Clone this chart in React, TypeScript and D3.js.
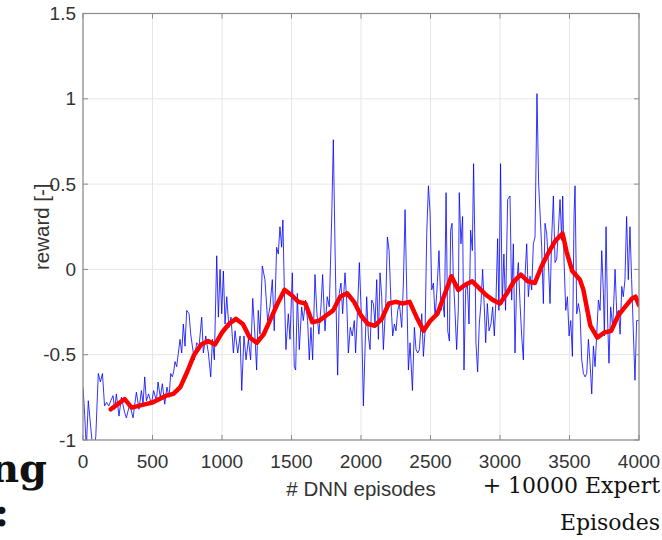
import React from "react";
import * as d3 from "d3";

// Raw reward per DNN episode
const rawEpisodes = [
  0, 12, 24, 38, 55, 74, 92, 110, 125, 140, 155, 170, 185, 200,
  216, 228, 240, 259, 276, 300, 312, 336, 360, 384, 403, 420, 432, 444, 456, 472, 492, 508, 528, 540, 556, 571, 588, 604, 619, 631, 643, 652, 662,
  674, 698, 710, 722, 734, 746, 763, 775, 787, 801, 818, 835, 854, 866, 883, 902, 919, 931, 945, 962, 974, 986, 998, 1010, 1022, 1034, 1050, 1065, 1082, 1094, 1113, 1130, 1142, 1158, 1173, 1190, 1206, 1221, 1237, 1249, 1261, 1273, 1290, 1309,
  1328, 1345, 1362, 1376, 1393, 1405, 1417, 1429, 1438, 1448, 1460, 1477, 1489, 1506, 1520, 1530, 1542, 1556, 1573, 1585, 1601, 1616, 1628, 1640, 1652, 1669, 1683, 1697, 1712, 1724, 1741, 1757, 1772, 1789, 1801, 1813, 1825, 1832, 1844, 1856, 1868, 1885, 1897, 1909, 1923, 1937, 1952, 1961, 1976, 1988,
  2005, 2017, 2029, 2041, 2053, 2065, 2077, 2089, 2101, 2113, 2125, 2137, 2149, 2161, 2178, 2190, 2202, 2216, 2228, 2240, 2252, 2264, 2276, 2293, 2305, 2317, 2329, 2341, 2353, 2370, 2384, 2396, 2408, 2420, 2437, 2449, 2461, 2473, 2485, 2497, 2509, 2521, 2533, 2545, 2561, 2576, 2585, 2600, 2612, 2624, 2636,
  2645, 2655, 2664, 2676, 2688, 2700, 2707, 2719, 2731, 2741, 2753, 2765, 2777, 2789, 2801, 2810, 2820, 2827, 2839, 2851, 2863, 2875, 2887, 2897, 2909, 2921, 2935, 2947, 2959, 2971, 2983, 2992, 3004, 3016, 3028, 3040, 3055, 3072, 3084, 3096, 3108, 3120, 3132, 3144, 3156, 3168, 3180, 3192, 3204, 3216, 3228, 3240, 3252, 3266, 3278,
  3300, 3312, 3324, 3336, 3348, 3360, 3372, 3384, 3396, 3408, 3420, 3432, 3444, 3451, 3461, 3473, 3485, 3497, 3509, 3521, 3533, 3540, 3552, 3564, 3576, 3588, 3600, 3612, 3624, 3636, 3648, 3660, 3672, 3684, 3696, 3708, 3720, 3732, 3744, 3751, 3763, 3775, 3784, 3796, 3811, 3828, 3840, 3852, 3864, 3876, 3887, 3899, 3911, 3923, 3935, 3947, 3959, 3971, 3983, 3998,
];
const rawRewards = [
  -0.69, -0.85, -1.05, -0.77, -0.92, -1.08, -0.98, -0.61, -0.66, -0.61, -0.8, -0.78, -0.8, -0.77,
  -0.74, -0.82, -0.73, -0.86, -0.75, -0.84, -0.87, -0.79, -0.87, -0.72, -0.82, -0.71, -0.79, -0.63, -0.77, -0.73, -0.79, -0.71, -0.77, -0.66, -0.75, -0.67, -0.79, -0.69, -0.75, -0.61, -0.63, -0.6, -0.54,
  -0.57, -0.41, -0.49, -0.32, -0.45, -0.24, -0.26, -0.38, -0.45, -0.53, -0.43, -0.45, -0.28, -0.49, -0.39, -0.49, -0.63, -0.41, -0.53, 0.08, -0.28, 0.0, -0.26, -0.01, -0.32, -0.16, -0.34, -0.28, -0.49, -0.36, -0.49, -0.39, -0.71, -0.39, -0.53, -0.41, -0.53, -0.17, -0.39, -0.59, -0.24, -0.38, 0.02, -0.06,
  -0.3, -0.22, -0.06, -0.36, 0.13, 0.09, 0.25, 0.13, 0.29, -0.1, -0.47, -0.26, -0.41, -0.02, -0.57, -0.59, -0.14, -0.47, -0.22, -0.3, -0.18, -0.3, -0.53, -0.34, -0.53, -0.03, -0.26, -0.38, -0.22, -0.03, -0.36, -0.16, -0.22, 0.29, 0.76, 0.13, -0.39, -0.62, -0.14, -0.08, -0.26, -0.02, -0.18, -0.49, -0.34, -0.39, -0.3, -0.49, -0.22, 0.04,
  -0.32, -0.8, -0.47, -0.16, -0.39, -0.47, -0.18, -0.2, -0.32, -0.06, -0.41, -0.02, -0.16, -0.47, -0.2, 0.19, 0.11, -0.2, -0.39, -0.32, -0.36, -0.24, -0.2, -0.34, -0.08, 0.35, -0.12, -0.59, -0.43, -0.71, -0.34, -0.47, -0.49, -0.47, -0.26, -0.51, -0.36, 0.21, 0.49, 0.33, -0.12, -0.08, -0.28, -0.14, 0.11, -0.24, -0.16, -0.28, 0.45, -0.36, -0.42,
  0.23, 0.27, -0.04, -0.24, -0.47, -0.24, 0.45, 0.15, 0.31, -0.59, -0.12, -0.08, -0.32, 0.23, 0.11, 0.62, 0.11, -0.43, -0.6, -0.32, -0.2, 0.0, -0.22, -0.43, -0.2, -0.36, -0.32, -0.22, -0.39, -0.18, 0.18, -0.24, 0.62, -0.2, 0.09, -0.24, 0.41, 0.43, -0.18, 0.15, -0.49, -0.08, 0.04, -0.2, -0.39, -0.53, -0.04, 0.15, -0.16, -0.04, -0.12, 0.15, 0.19, 1.03, 0.5,
  0.13, -0.2, 0.27, 0.21, 0.04, -0.2, 0.19, 0.43, 0.04, 0.06, 0.23, 0.41, 0.17, 0.43, 0.04, -0.24, -0.16, -0.39, -0.3, -0.51, 0.33, 0.49, -0.26, -0.2, -0.26, -0.53, -0.61, -0.63, -0.61, -0.41, -0.55, -0.73, -0.45, -0.57, -0.38, -0.18, -0.24, 0.11, -0.14, -0.39, 0.25, -0.32, -0.55, -0.22, -0.34, 0.0, -0.26, -0.24, -0.38, -0.1, -0.16, -0.06, 0.31, -0.06, 0.25, -0.06, -0.36, -0.65, -0.3, -0.3,
];

// Smoothed (moving-average) reward
const avgEpisodes = [
  200, 250, 300, 350, 400, 450, 500, 550, 600, 650, 700, 750, 800, 850, 900, 950, 1000, 1050, 1100, 1150, 1200, 1250, 1300, 1350, 1400, 1450, 1500, 1550, 1600, 1650, 1700, 1750, 1800, 1850, 1900, 1950, 2000, 2050, 2100, 2150, 2200, 2250, 2300, 2350, 2400, 2450, 2500, 2550, 2600, 2650, 2700, 2750, 2800, 2850, 2900, 2950, 3000, 3050, 3100, 3150, 3200, 3250, 3300, 3350, 3400, 3450, 3480, 3520, 3575, 3600, 3650, 3700, 3750, 3800, 3850, 3900, 3950, 3975, 4000,
];
const avgRewards = [
  -0.82, -0.79, -0.76, -0.81, -0.8, -0.79, -0.78, -0.76, -0.74, -0.73, -0.69, -0.6, -0.5, -0.44, -0.42, -0.44, -0.37, -0.32, -0.29, -0.32, -0.4, -0.43, -0.38, -0.29, -0.2, -0.12, -0.15, -0.19, -0.2, -0.31, -0.3, -0.27, -0.24, -0.16, -0.14, -0.19, -0.27, -0.32, -0.33, -0.29, -0.2, -0.19, -0.2, -0.19, -0.28, -0.36, -0.3, -0.26, -0.15, -0.04, -0.12, -0.09, -0.07, -0.11, -0.15, -0.18, -0.2, -0.14, -0.07, -0.03, -0.07, -0.08, 0.02, 0.1, 0.17, 0.21, 0.1, -0.01, -0.06, -0.12, -0.33, -0.4, -0.37, -0.36, -0.27, -0.22, -0.17, -0.16, -0.21,
];

const xTicks = [0, 500, 1000, 1500, 2000, 2500, 3000, 3500, 4000];
const yTicks = [-1, -0.5, 0, 0.5, 1, 1.5];
const yTickLabels = ["-1", "-0.5", "0", "0.5", "1", "1.5"];

const W = 662;
const H = 540;
const M = { left: 83, right: 639, top: 13.5, bottom: 440 };

export default function App() {
  const x = d3.scaleLinear().domain([0, 4000]).range([M.left, M.right]);
  const y = d3.scaleLinear().domain([-1, 1.5]).range([M.bottom, M.top]);

  const raw = rawEpisodes.map((e, i) => [e, rawRewards[i]] as [number, number]);
  const avg = avgEpisodes.map((e, i) => [e, avgRewards[i]] as [number, number]);

  const line = d3
    .line<[number, number]>()
    .x((d) => x(d[0]))
    .y((d) => y(d[1]));

  const tickFont = "Liberation Sans, Arial, Helvetica, sans-serif";
  const axisColor = "#8a8a8a";
  const textColor = "#333333";
  const gridColor = "#e6e6e6";
  const tickLen = 5;

  return (
    <svg
      width={W}
      height={H}
      viewBox={`0 0 ${W} ${H}`}
      style={{ position: "fixed", left: 0, top: 0, background: "#ffffff" }}
    >
      <defs>
        <clipPath id="plotClip">
          <rect x={M.left} y={M.top} width={M.right - M.left} height={M.bottom - M.top} />
        </clipPath>
      </defs>
      <rect x={0} y={0} width={W} height={H} fill="#ffffff" />

      {/* grid */}
      {xTicks.map((t) => (
        <line key={"gx" + t} x1={x(t)} x2={x(t)} y1={M.top} y2={M.bottom} stroke={gridColor} strokeWidth={1} />
      ))}
      {yTicks.map((t) => (
        <line key={"gy" + t} x1={M.left} x2={M.right} y1={y(t)} y2={y(t)} stroke={gridColor} strokeWidth={1} />
      ))}

      {/* data */}
      <g clipPath="url(#plotClip)">
        <path d={line(raw) || ""} fill="none" stroke="#0000ff" strokeWidth={0.8} strokeLinejoin="round" />
        <path d={line(avg) || ""} fill="none" stroke="#ff0000" strokeWidth={4.5} strokeLinejoin="round" strokeLinecap="round" />
      </g>

      {/* box */}
      <rect x={M.left} y={M.top} width={M.right - M.left} height={M.bottom - M.top} fill="none" stroke={axisColor} strokeWidth={1.2} />

      {/* ticks */}
      {xTicks.map((t) => (
        <g key={"tx" + t}>
          <line x1={x(t)} x2={x(t)} y1={M.bottom} y2={M.bottom - tickLen} stroke={axisColor} strokeWidth={1} />
          <line x1={x(t)} x2={x(t)} y1={M.top} y2={M.top + tickLen} stroke={axisColor} strokeWidth={1} />
          <text x={x(t)} y={468} textAnchor="middle" fontFamily={tickFont} fontSize={19} fill={textColor}>
            {t}
          </text>
        </g>
      ))}
      {yTicks.map((t, i) => (
        <g key={"ty" + t}>
          <line x1={M.left} x2={M.left + tickLen} y1={y(t)} y2={y(t)} stroke={axisColor} strokeWidth={1} />
          <line x1={M.right} x2={M.right - tickLen} y1={y(t)} y2={y(t)} stroke={axisColor} strokeWidth={1} />
          <text x={76} y={y(t)} dy="0.35em" textAnchor="end" fontFamily={tickFont} fontSize={19} fill={textColor}>
            {yTickLabels[i]}
          </text>
        </g>
      ))}

      {/* axis labels */}
      <text x={(M.left + M.right) / 2} y={496} textAnchor="middle" fontFamily={tickFont} fontSize={20.5} fill={textColor}>
        # DNN episodes
      </text>
      <text
        transform={`translate(49, ${(M.top + M.bottom) / 2}) rotate(-90)`}
        textAnchor="middle"
        fontFamily={tickFont}
        fontSize={20.5}
        fill={textColor}
      >
        reward [-]
      </text>

      {/* surrounding slide text */}
      <text x={47} y={482} textAnchor="end" fontFamily="DejaVu Serif, serif" fontWeight="bold" fontSize={40} fill="#111111">
        ng
      </text>
      <text x={9} y={526} textAnchor="end" fontFamily="DejaVu Serif, serif" fontWeight="bold" fontSize={40} fill="#111111">
        :
      </text>
      <text x={660} y={493} textAnchor="end" fontFamily="DejaVu Serif, serif" fontSize={22} fill="#111111">
        + 10000 Expert
      </text>
      <text x={660} y={530} textAnchor="end" fontFamily="DejaVu Serif, serif" fontSize={22} fill="#111111">
        Episodes
      </text>
    </svg>
  );
}
